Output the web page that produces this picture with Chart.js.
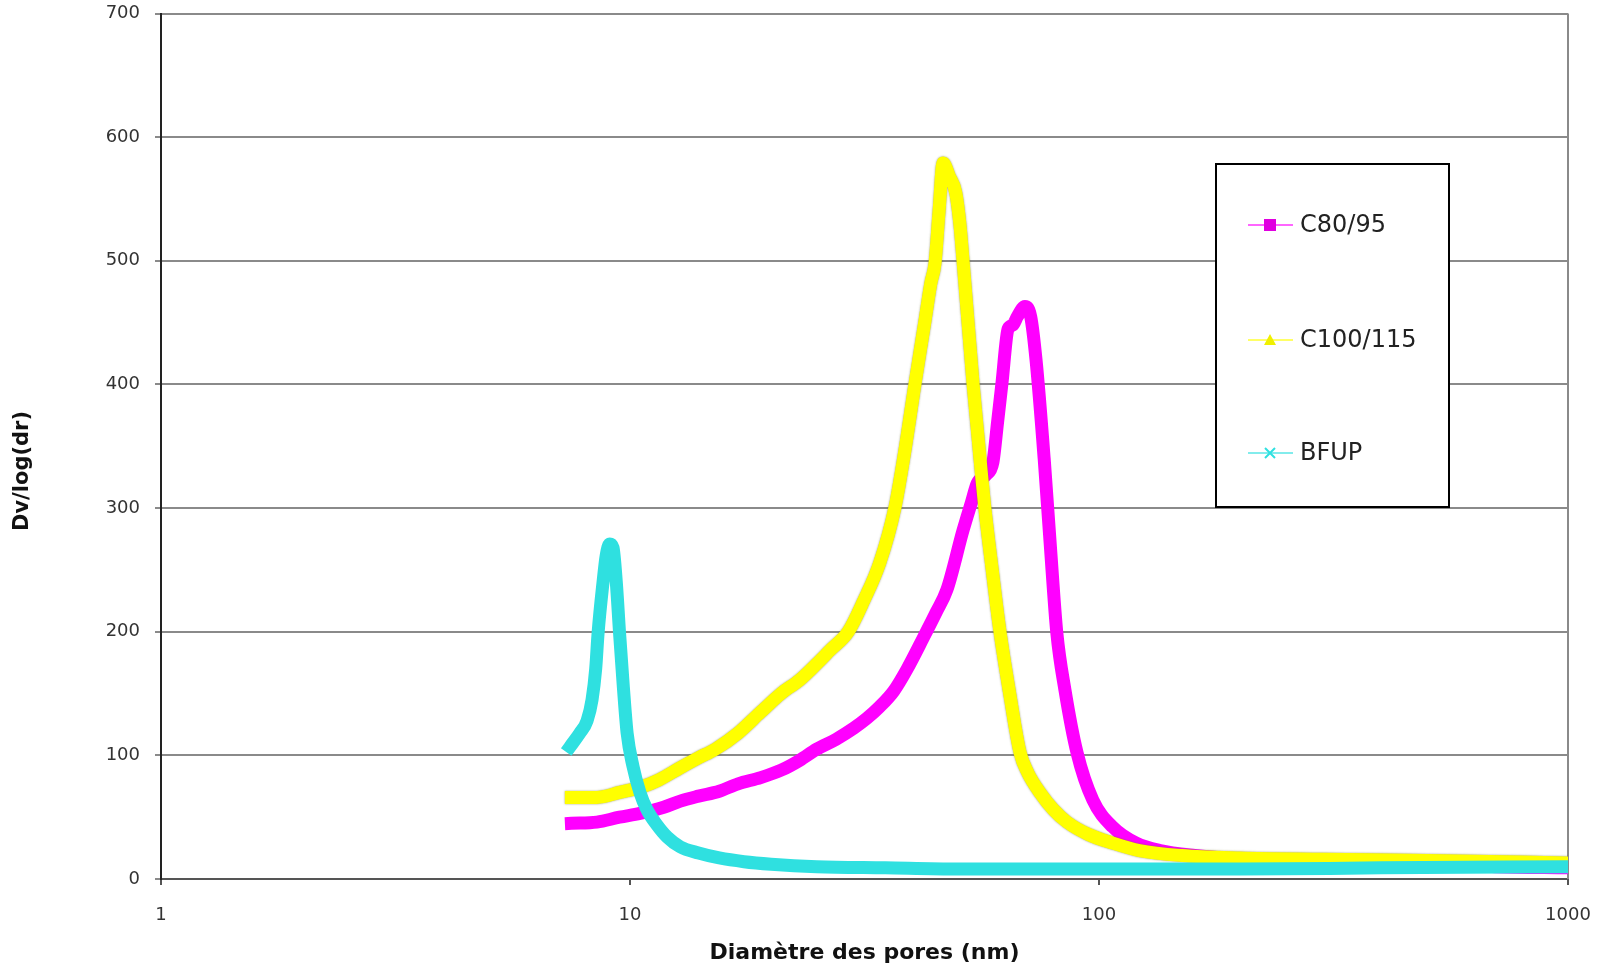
<!DOCTYPE html>
<html>
<head>
<meta charset="utf-8">
<script src="https://cdn.jsdelivr.net/npm/chart.js@4"></script>
<style>
  html, body { margin: 0; padding: 0; background: #ffffff; }
  canvas { display: block; }
</style>
</head>
<body>
<canvas id="c" width="1602" height="971"></canvas>
<script>
// ---- data ----
const SERIES_NAMES = ['C80/95', 'C100/115', 'BFUP'];

const C80_X = [7.5, 8.5, 9.5, 10.5, 11.8, 12.8, 14, 15.5, 17, 19, 21, 23, 25, 27.5, 30, 32, 34, 36.5, 39, 42.2, 45, 47.4, 51.3, 53.5, 55, 57.5, 59.4, 60.8, 62.1, 64, 65.5, 67, 69.5, 71.5, 73.4, 76.4, 78.6, 81.3, 84.6, 89.8, 97, 107, 120, 135, 160, 200, 300, 500, 700, 1000];
const C80_Y = [45, 46, 50, 53, 58, 63, 67, 71, 77, 82, 88, 96, 105, 113, 122, 130, 139, 152, 170, 195, 216, 234, 282, 305, 320, 327, 337, 370, 401, 445, 448, 455, 463, 455, 420, 340, 274, 199, 153, 102, 64, 42, 29, 23, 19, 16, 14, 12, 10, 9];

const C100_X = [7.5, 8.5, 9.5, 10.5, 11.5, 12.8, 14, 15.2, 17, 19, 21, 23, 25, 26.7, 29.2, 31.5, 34.1, 36.7, 38.5, 40.5, 42.5, 43.8, 44.7, 45.6, 46.5, 48, 49.5, 50.5, 51.3, 53.9, 56.3, 57.1, 59.2, 61.5, 64.5, 67.9, 70.5, 74.8, 80, 85.5, 95, 107, 122, 150, 200, 300, 500, 1000];
const C100_Y = [66, 66, 70, 74, 80, 90, 98, 105, 118, 135, 150, 161, 174, 185, 200, 225, 256, 300, 345, 400, 450, 482, 498, 540, 579, 568, 555, 530, 500, 400, 323, 300, 250, 200, 150, 102, 86, 70, 56, 46, 36, 29, 23, 19, 17, 16, 15, 13];

const BFUP_X = [7.45, 7.82, 8.1, 8.3, 8.45, 8.55, 8.76, 8.9, 9.05, 9.2, 9.35, 9.5, 9.68, 9.86, 10.15, 10.5, 10.87, 11.4, 12, 12.8, 14, 15.5, 17.5, 20, 25, 35, 50, 100, 200, 400, 1000];
const BFUP_Y = [107, 118, 128, 145, 170, 199, 240, 262, 271, 268, 240, 199, 155, 118, 91, 70, 56, 44, 34, 26, 21, 17, 14, 12, 10, 9, 8, 8, 8, 9, 10];

const X_TICKS = [1, 10, 100, 1000];
const Y_MIN = 0, Y_MAX = 700, Y_STEP = 100;

const X_TITLE = 'Diamètre des pores (nm)';
const Y_TITLE = 'Dv/log(dr)';

const COLORS = ['#ff00ff', '#ffff00', '#2fe0e0'];
const FONT = '"DejaVu Sans", "Liberation Sans", sans-serif';

function pairs(xs, ys) { return xs.map((x, i) => ({ x: x, y: ys[i] })); }

// ---- plugins ----
const frameAndLegend = {
  id: 'frameAndLegend',
  beforeDatasetsDraw(chart) {
    const { ctx, chartArea: a } = chart;
    ctx.save();
    ctx.strokeStyle = '#8a8a8a';
    ctx.lineWidth = 2;
    ctx.beginPath();
    ctx.moveTo(a.right, a.top);
    ctx.lineTo(a.right, a.bottom);
    ctx.stroke();
    ctx.restore();
  },
  beforeDatasetDraw(chart, args) {
    if (args.index === 1) {
      const ctx = chart.ctx;
      ctx.save();
      ctx.shadowColor = 'rgba(110,110,40,0.7)';
      ctx.shadowBlur = 2;
    }
  },
  afterDatasetDraw(chart, args) {
    if (args.index === 1) chart.ctx.restore();
  },
  afterDraw(chart) {
    const ctx = chart.ctx;
    ctx.save();
    // y axis title
    ctx.translate(23, 471);
    ctx.rotate(-Math.PI / 2);
    ctx.font = 'bold 21px ' + FONT;
    ctx.fillStyle = '#111';
    ctx.textAlign = 'center';
    ctx.textBaseline = 'middle';
    ctx.fillText(Y_TITLE, 0, 0);
    ctx.restore();

    // legend box
    ctx.save();
    const bx = 1216, by = 164, bw = 233, bh = 343;
    ctx.fillStyle = '#ffffff';
    ctx.fillRect(bx, by, bw, bh);
    ctx.strokeStyle = '#000';
    ctx.lineWidth = 2;
    ctx.strokeRect(bx, by, bw, bh);
    const rows = [225, 340, 453];
    chart.data.datasets.forEach((ds, i) => {
      const y = rows[i];
      ctx.strokeStyle = ds.borderColor;
      ctx.globalAlpha = 0.6;
      ctx.lineWidth = 2;
      ctx.beginPath();
      ctx.moveTo(1248, y);
      ctx.lineTo(1293, y);
      ctx.stroke();
      ctx.globalAlpha = 1;
      ctx.fillStyle = ds.borderColor;
      ctx.strokeStyle = ds.borderColor;
      if (i === 0) {
        ctx.fillStyle = '#e000e0';
        ctx.fillRect(1264, y - 6, 12, 12);
      } else if (i === 1) {
        ctx.fillStyle = '#f0f000';
        ctx.beginPath();
        ctx.moveTo(1270, y - 6);
        ctx.lineTo(1276, y + 5);
        ctx.lineTo(1264, y + 5);
        ctx.closePath();
        ctx.fill();
      } else {
        ctx.lineWidth = 2;
        ctx.beginPath();
        ctx.moveTo(1265, y - 5); ctx.lineTo(1275, y + 5);
        ctx.moveTo(1275, y - 5); ctx.lineTo(1265, y + 5);
        ctx.stroke();
      }
      ctx.fillStyle = '#222';
      ctx.font = '24px ' + FONT;
      ctx.textAlign = 'left';
      ctx.textBaseline = 'middle';
      ctx.fillText(ds.label, 1300, y + 1);
    });
    ctx.restore();
  }
};

const yTicks = [];
for (let v = Y_MIN; v <= Y_MAX; v += Y_STEP) yTicks.push(v);

new Chart(document.getElementById('c'), {
  type: 'line',
  data: {
    datasets: [
      { label: SERIES_NAMES[0], data: pairs(C80_X, C80_Y), borderColor: COLORS[0], order: 3 },
      { label: SERIES_NAMES[1], data: pairs(C100_X, C100_Y), borderColor: COLORS[1], order: 2 },
      { label: SERIES_NAMES[2], data: pairs(BFUP_X, BFUP_Y), borderColor: COLORS[2], order: 1 }
    ]
  },
  options: {
    responsive: false,
    animation: false,
    elements: {
      line: { borderWidth: 13, cubicInterpolationMode: 'monotone', borderCapStyle: 'square', borderJoinStyle: 'round', fill: false },
      point: { radius: 0, hoverRadius: 0 }
    },
    layout: { padding: { top: 13.5, right: 34, left: 0, bottom: 0 } },
    plugins: {
      legend: { display: false },
      tooltip: { enabled: false }
    },
    scales: {
      x: {
        type: 'logarithmic',
        position: 'bottom',
        min: 1, max: 1000,
        afterBuildTicks(s) { s.ticks = X_TICKS.map(v => ({ value: v })); },
        afterFit(s) { s.height = 92; s.paddingLeft = 0; s.paddingRight = 0; },
        ticks: {
          autoSkip: false, maxRotation: 0, padding: 20,
          font: { family: FONT, size: 18 }, color: '#333',
          callback: v => String(v)
        },
        grid: { drawOnChartArea: false, drawTicks: true, tickLength: 6, color: '#555', lineWidth: 2 },
        border: { color: '#555', width: 2 },
        title: {
          display: true, text: X_TITLE, color: '#111',
          font: { family: FONT, size: 22, weight: 'bold' },
          padding: { top: 0, bottom: 5 }
        }
      },
      y: {
        type: 'linear',
        position: 'left',
        min: Y_MIN, max: Y_MAX,
        afterBuildTicks(s) { s.ticks = yTicks.map(v => ({ value: v })); },
        afterFit(s) { s.width = 161; s.paddingTop = 0; s.paddingBottom = 0; },
        ticks: {
          padding: 15, font: { family: FONT, size: 18 }, color: '#333'
        },
        grid: { color: '#8a8a8a', lineWidth: 2, tickLength: 6, drawTicks: true },
        border: { color: '#222', width: 2 }
      }
    }
  },
  plugins: [frameAndLegend]
});
</script>
</body>
</html>
